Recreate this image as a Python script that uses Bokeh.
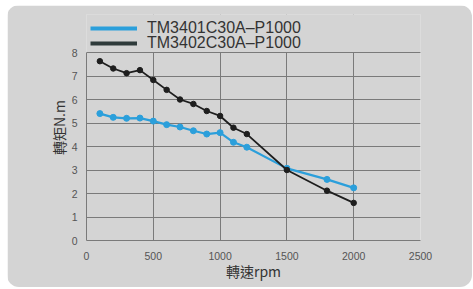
from bokeh.plotting import figure
from bokeh.models import Range1d, Legend, LegendItem, FixedTicker, BoxAnnotation, Span
from bokeh.embed import file_html
from bokeh.resources import INLINE

speed = [100, 200, 300, 400, 500, 600, 700, 800, 900, 1000, 1100, 1200, 1500, 1800, 2000]
torque_3401 = [5.40, 5.24, 5.20, 5.21, 5.08, 4.93, 4.83, 4.67, 4.53, 4.59, 4.18, 3.97, 3.07, 2.60, 2.24]
torque_3402 = [7.63, 7.32, 7.12, 7.25, 6.83, 6.41, 6.00, 5.81, 5.51, 5.30, 4.80, 4.53, 3.00, 2.12, 1.60]
x_ticks = [0, 500, 1000, 1500, 2000, 2500]
y_ticks = [0, 1, 2, 3, 4, 5, 6, 7, 8]
x_max = 2500
y_max = 8
name_3401 = "TM3401C30A\u2013P1000"
name_3402 = "TM3402C30A\u2013P1000"

BG = "#d4d4d4"
GRID = "#7a7a7a"
BLUE = "#2b9fdb"
BLACK = "#1e1e1e"

# layout: plot area 188 px tall for 0..8, plus 38 px of headroom for the legend
FRAME_H = 226
PLOT_H = 188
y_top = y_max * FRAME_H / PLOT_H

p = figure(width=465, height=282, output_backend="svg", toolbar_location=None,
           x_range=Range1d(0, x_max), y_range=Range1d(0, y_top),
           min_border_left=79, min_border_right=52, min_border_top=9, min_border_bottom=47)
p.margin = (5, 1, 2, 7)
p.styles = {"border-radius": "12px", "overflow": "hidden"}
p.background_fill_color = BG
p.border_fill_color = BG
p.outline_line_color = None

p.xaxis.ticker = FixedTicker(ticks=x_ticks)
p.yaxis.ticker = FixedTicker(ticks=y_ticks)
p.yaxis.bounds = (0, y_max)
for ax in (p.xaxis[0], p.yaxis[0]):
    ax.axis_line_color = GRID
    ax.major_tick_line_color = None
    ax.minor_tick_line_color = None
    ax.major_label_text_color = "#555555"
    ax.major_label_text_font = "Liberation Sans"
    ax.major_label_text_font_size = "10.5px"
    ax.axis_label_text_font = "Noto Sans CJK TC"
    ax.axis_label_text_font_style = "normal"
    ax.axis_label_text_color = "#333333"
    ax.axis_label_text_font_size = "14px"
p.xaxis.major_label_standoff = 5
p.yaxis.major_label_standoff = 3
p.xaxis.axis_label = "轉速rpm"
p.yaxis.axis_label = "轉矩N.m"
p.xaxis.axis_label_standoff = -2
p.yaxis.axis_label_standoff = 0

p.xgrid.ticker = FixedTicker(ticks=x_ticks)
p.ygrid.ticker = FixedTicker(ticks=y_ticks)
p.grid.grid_line_color = GRID
p.grid.grid_line_width = 1

# cover the headroom above the plot area, then draw its top edge
p.add_layout(BoxAnnotation(bottom=y_max, fill_color=BG, fill_alpha=1, line_color=None))
p.add_layout(Span(location=y_max, dimension="width", line_color=GRID, line_width=1))

l1 = p.line(speed, torque_3401, line_color=BLUE, line_width=2.2)
c1 = p.scatter(speed, torque_3401, size=6, fill_color=BLUE, line_color=BLUE)
l2 = p.line(speed, torque_3402, line_color=BLACK, line_width=1.8)
c2 = p.scatter(speed, torque_3402, size=5.5, fill_color=BLACK, line_color=BLACK)

# legend swatches (thick lines)
s1 = p.line([None], [None], line_color=BLUE, line_width=4)
s2 = p.line([None], [None], line_color="#2f3b3b", line_width=4)

common = dict(orientation="vertical", background_fill_alpha=0, border_line_color=None,
              padding=0, spacing=0, margin=0,
              glyph_width=47, glyph_height=14, label_height=14, label_standoff=10,
              label_text_font="Liberation Sans", label_text_font_size="16px",
              label_text_color="#333333")
legend1 = Legend(items=[LegendItem(label=name_3401, renderers=[s1])], location=(4, 203), **common)
legend2 = Legend(items=[LegendItem(label=name_3402, renderers=[s2])], location=(4, 188), **common)
p.add_layout(legend1, "center")
p.add_layout(legend2, "center")

open("out.html", "w").write(file_html(p, INLINE))
